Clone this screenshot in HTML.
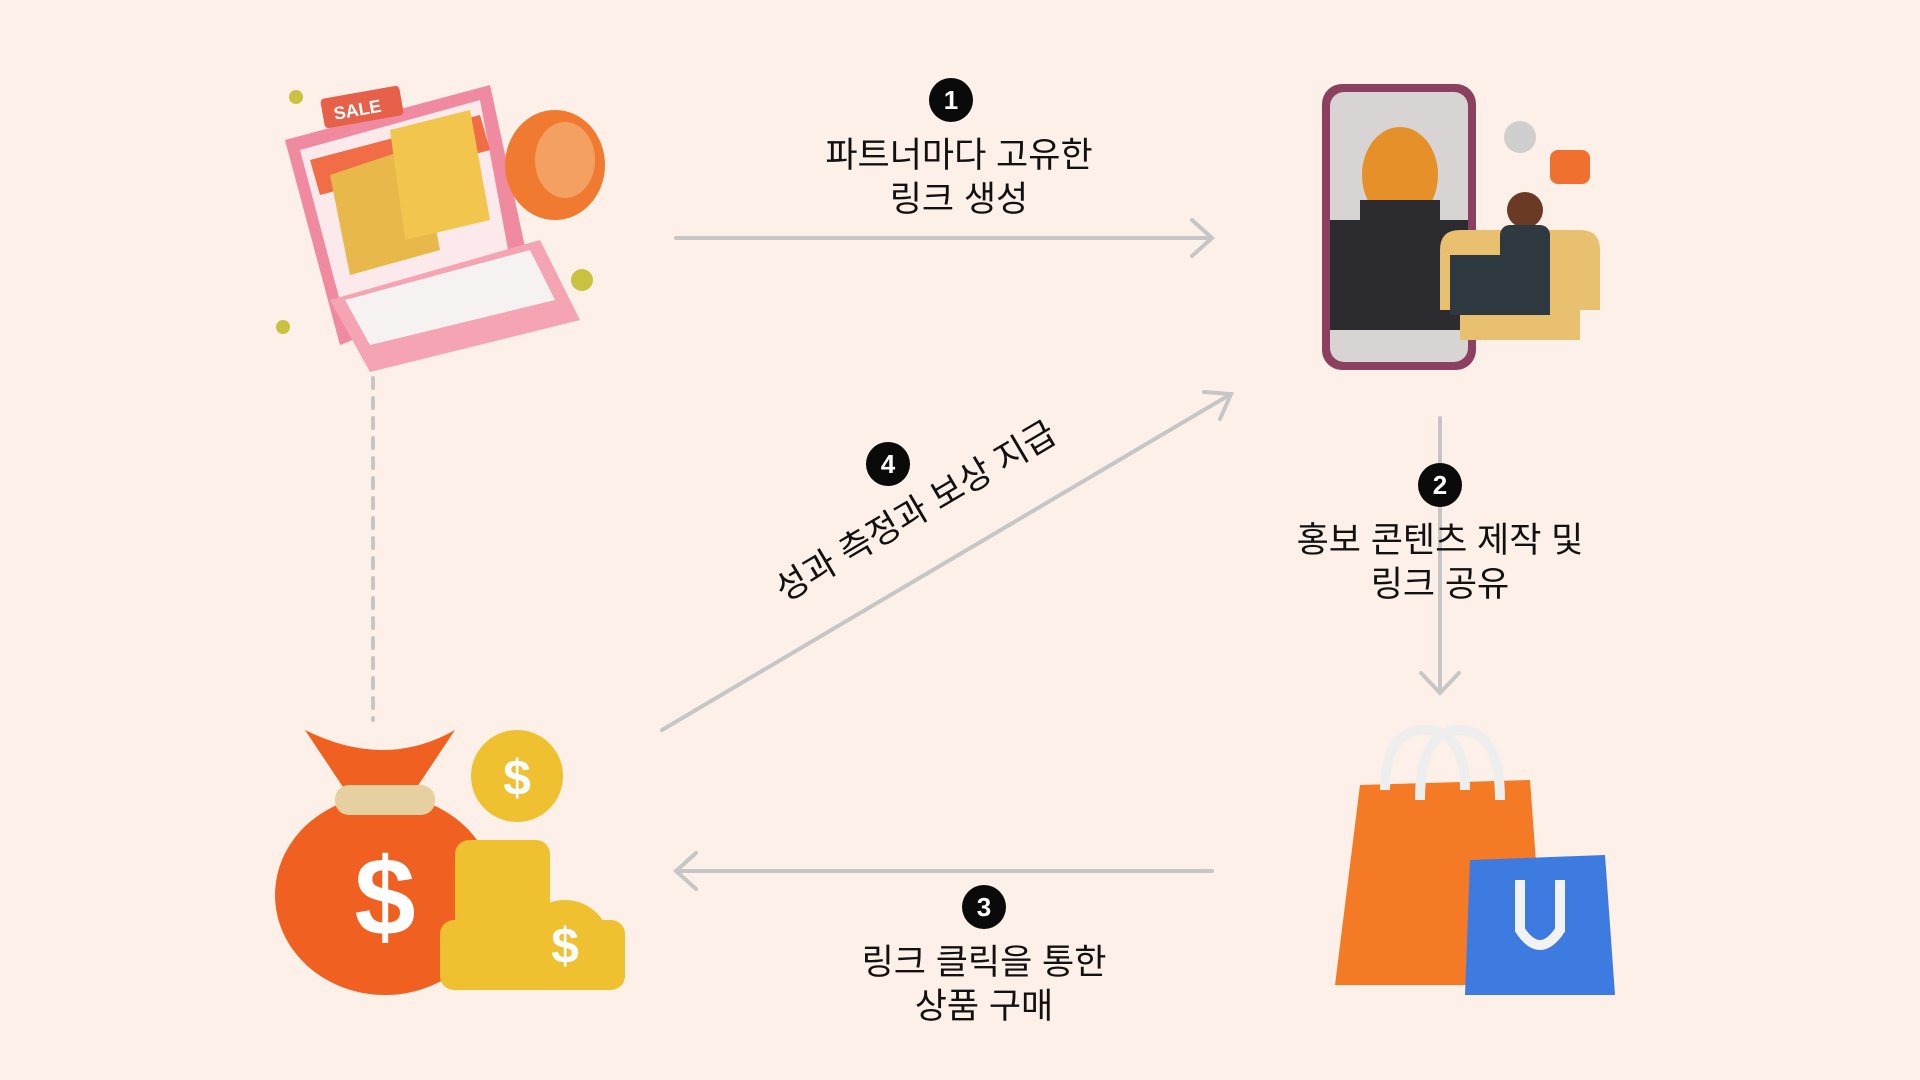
<!DOCTYPE html>
<html><head><meta charset="utf-8"><style>
html,body{margin:0;padding:0;}
body{width:1920px;height:1080px;background:#fdf0e8;position:relative;overflow:hidden;font-family:"Liberation Sans","Noto Sans CJK KR",sans-serif;}
.t{position:absolute;color:#111;font-size:35px;text-align:center;line-height:44px;white-space:nowrap;transform:translateX(-50%);}
.b{position:absolute;width:44px;height:44px;border-radius:50%;background:#0a0a0a;color:#fff;font-weight:bold;font-size:26px;line-height:44px;text-align:center;transform:translate(-50%,-50%);}
svg{position:absolute;left:0;top:0;}
</style></head><body>
<svg width="1920" height="1080">
<g stroke="#c6c6c6" stroke-width="4" fill="none" stroke-linecap="round">
<line x1="676" y1="238" x2="1212" y2="238"/><polyline points="1192,220 1212,238 1192,256"/>
<line x1="1440" y1="418" x2="1440" y2="693"/><polyline points="1421,673 1440,693 1459,673"/>
<line x1="1212" y1="871" x2="676" y2="871"/><polyline points="696,853 676,871 696,889"/>
<line x1="662" y1="730" x2="1231" y2="394"/><polyline points="1204,392 1231,394 1220,419"/>
<line x1="373" y1="378" x2="373" y2="720" stroke-dasharray="10,10"/>
</g>
<g>
<polygon points="285,140 490,85 530,270 340,345" fill="#f08aa0"/>
<polygon points="300,150 480,100 510,260 345,320" fill="#fbe9ec"/>
<polygon points="330,300 540,240 580,320 370,372" fill="#f5a4b4"/>
<polygon points="345,300 530,250 555,300 370,345" fill="#f6f2f2"/>
<polygon points="310,160 480,115 490,150 320,195" fill="#f06d45"/>
<polygon points="330,175 420,145 440,250 350,275" fill="#e8b84a"/>
<polygon points="390,130 470,110 490,220 405,240" fill="#f2c64c"/>
<rect x="322" y="92" width="80" height="30" rx="4" fill="#e6604a" transform="rotate(-10 362 107)"/>
<text x="333" y="115" fill="#fff" font-size="18" font-weight="bold" transform="rotate(-10 362 107)">SALE</text>
<ellipse cx="555" cy="165" rx="50" ry="55" fill="#f07a30"/>
<ellipse cx="565" cy="160" rx="30" ry="38" fill="#f4a060"/>
<circle cx="296" cy="97" r="7" fill="#c9c240"/><circle cx="582" cy="280" r="11" fill="#c9c240"/><circle cx="283" cy="327" r="7" fill="#c9c240"/>
</g>
<g>
<rect x="1322" y="84" width="154" height="286" rx="20" fill="#8b4060"/>
<rect x="1330" y="92" width="138" height="270" rx="14" fill="#d8d4d4"/>
<rect x="1330" y="220" width="138" height="110" fill="#2b2b30"/>
<ellipse cx="1400" cy="175" rx="38" ry="48" fill="#e6902a"/>
<rect x="1360" y="200" width="80" height="30" fill="#2b2b30"/>
<path d="M1440 310 l0-60 q0-20 20-20 h120 q20 0 20 20 v60 h-20 v30 h-120 v-30z" fill="#e8c070"/>
<rect x="1450" y="255" width="100" height="60" fill="#2e3a40"/>
<circle cx="1525" cy="210" r="18" fill="#6b3a24"/>
<rect x="1500" y="225" width="50" height="60" rx="10" fill="#2e3a40"/>
<rect x="1550" y="150" width="40" height="34" rx="8" fill="#f07030"/>
<circle cx="1520" cy="137" r="16" fill="#cfcfcf"/>
</g>
<g>
<polygon points="1360,785 1530,780 1545,985 1335,985" fill="#f47a25"/>
<path d="M1385 790 q0 -60 40 -60 q40 0 40 60" stroke="#eee" stroke-width="10" fill="none"/>
<path d="M1420 800 q0 -70 40 -70 q40 0 40 70" stroke="#eee" stroke-width="10" fill="none"/>
<polygon points="1470,860 1605,855 1615,995 1465,995" fill="#3e7be0"/>
<path d="M1520 880 v50 q20 30 40 0 v-50" stroke="#f2f2f2" stroke-width="10" fill="none"/>
</g>
<g>
<ellipse cx="385" cy="895" rx="110" ry="100" fill="#f06020"/>
<path d="M305 730 q80 40 150 0 l-40 60 h-70z" fill="#f06020"/>
<rect x="335" y="785" width="100" height="30" rx="14" fill="#e6d0a0"/>
<text x="385" y="935" fill="#fff" font-size="110" font-weight="bold" text-anchor="middle">$</text>
<g fill="#efc030">
<rect x="455" y="840" width="95" height="140" rx="14"/>
<rect x="440" y="920" width="185" height="70" rx="14"/>
<circle cx="517" cy="776" r="46"/><circle cx="565" cy="945" r="45"/>
</g>
<text x="517" y="795" fill="#fff" font-size="50" font-weight="bold" text-anchor="middle">$</text>
<text x="565" y="963" fill="#fff" font-size="50" font-weight="bold" text-anchor="middle">$</text>
</g>
</svg>
<div class="b" style="left:951px;top:100px">1</div>
<div class="t" style="left:959px;top:134px">파트너마다 고유한<br>링크 생성</div>
<div class="b" style="left:1440px;top:485px">2</div>
<div class="t" style="left:1440px;top:519px">홍보 콘텐츠 제작 및<br>링크 공유</div>
<div class="b" style="left:984px;top:907px">3</div>
<div class="t" style="left:984px;top:941px">링크 클릭을 통한<br>상품 구매</div>
<div class="b" style="left:888px;top:464px">4</div>
<div class="t" style="left:916px;top:490px;transform:translateX(-50%) rotate(-30.6deg)">성과 측정과 보상 지급</div>
</body></html>
